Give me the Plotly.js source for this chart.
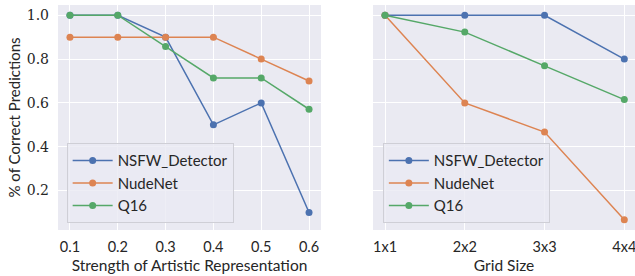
<!DOCTYPE html>
<html><head><meta charset="utf-8">
<script src="https://cdn.plot.ly/plotly-3.0.1.min.js"></script>
<style>html,body{margin:0;padding:0;background:#fff}#chart{width:635px;height:276px}</style>
</head><body><div id="chart"></div>
<script>
const strength = [0.1, 0.2, 0.3, 0.4, 0.5, 0.6];
const strengthNSFW = [1.0, 1.0, 0.9, 0.5, 0.6, 0.1];
const strengthNudeNet = [0.9, 0.9, 0.9, 0.9, 0.8, 0.7];
const strengthQ16 = [1.0, 1.0, 0.857, 0.714, 0.714, 0.571];

const gridSizes = ["1x1", "2x2", "3x3", "4x4"];
const gridNSFW = [1.0, 1.0, 1.0, 0.8];
const gridNudeNet = [1.0, 0.6, 0.467, 0.067];
const gridQ16 = [1.0, 0.923, 0.769, 0.615];

const yTicks = [0.2, 0.4, 0.6, 0.8, 1.0];
const seriesNames = ["NSFW_Detector", "NudeNet", "Q16"];
const colors = ["#4c72b0", "#dd8452", "#55a868"];

function tr(x, y, i, xa, ya, lg) {
  return {x: x, y: y, name: seriesNames[i], xaxis: xa, yaxis: ya, legend: lg,
    type: "scatter", mode: "lines+markers",
    line: {color: colors[i], width: 1.5},
    marker: {color: colors[i], size: 7}};
}
const gridIdx = gridSizes.map((_, k) => k);
const data = [
  tr(strength, strengthNSFW, 0, "x", "y", "legend"),
  tr(strength, strengthNudeNet, 1, "x", "y", "legend"),
  tr(strength, strengthQ16, 2, "x", "y", "legend"),
  tr(gridIdx, gridNSFW, 0, "x2", "y2", "legend2"),
  tr(gridIdx, gridNudeNet, 1, "x2", "y2", "legend2"),
  tr(gridIdx, gridQ16, 2, "x2", "y2", "legend2")
];
const sans = "Lato";
const serif = "DejaVu Serif";
const ycommon = {range: [0.02, 1.0467], tickvals: yTicks,
  gridcolor: "#ffffff", gridwidth: 1, zeroline: false, showline: false, ticks: ""};
const legCommon = {bgcolor: "rgba(234,234,242,0.8)", bordercolor: "#cfcfd6", borderwidth: 1,
  font: {family: sans, size: 15, color: "#262626"}, itemwidth: 40,
  xanchor: "left", yanchor: "bottom", tracegroupgap: 0};
const layout = {
  width: 635, height: 276,
  margin: {l: 58, r: 0, t: 5, b: 46},
  paper_bgcolor: "#ffffff", plot_bgcolor: "#eaeaf2",
  showlegend: true,
  font: {family: sans, color: "#262626", size: 14},
  xaxis: {domain: [0, 0.4558], range: [0.075, 0.625], tickvals: strength,
    ticktext: strength.map(v => v.toFixed(1)), gridcolor: "#ffffff", zeroline: false, ticks: "",
    ticklabelstandoff: 6, tickfont: {family: sans, size: 14.5},
    title: {text: "Strength of Artistic Representation", font: {family: sans, size: 15.5}, standoff: 6}},
  xaxis2: {domain: [0.546, 1], range: [-0.15, 3.134], tickvals: gridIdx, ticktext: gridSizes,
    gridcolor: "#ffffff", zeroline: false, ticks: "", ticklabelstandoff: 6,
    ticklabeloverflow: "allow",
    tickfont: {family: sans, size: 14.5},
    title: {text: "Grid Size", font: {family: sans, size: 15.5}, standoff: 6}},
  yaxis: Object.assign({}, ycommon, {anchor: "x", ticktext: yTicks.map(v => v.toFixed(1)),
    tickfont: {family: serif, size: 14}, ticklabelstandoff: 8,
    title: {text: "% of Correct Predictions", font: {family: sans, size: 15}, standoff: 2}}),
  yaxis2: Object.assign({}, ycommon, {anchor: "x2", showticklabels: false}),
  legend: Object.assign({}, legCommon, {x: 0.015, y: 0.03, xref: "paper", yref: "paper"}),
  legend2: Object.assign({}, legCommon, {x: 0.563, y: 0.03, xref: "paper", yref: "paper"})
};
Plotly.newPlot("chart", data, layout, {displayModeBar: false, staticPlot: true});
</script></body></html>
